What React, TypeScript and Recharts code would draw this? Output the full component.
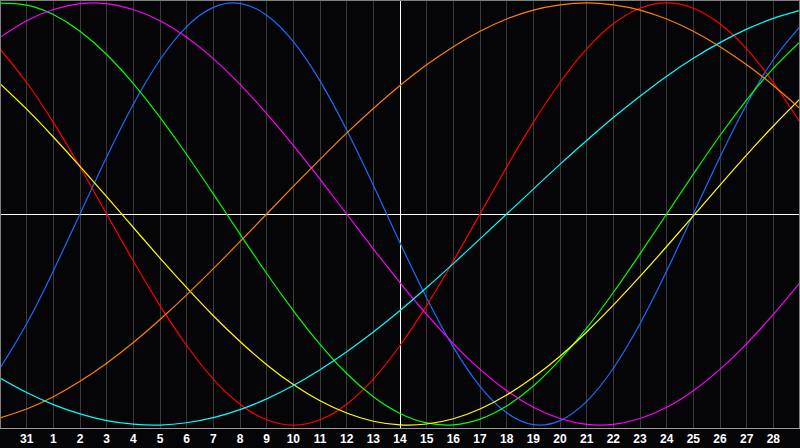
import React from "react";
import {
  CartesianGrid,
  Line,
  LineChart,
  ReferenceLine,
  XAxis,
  YAxis,
} from "recharts";

// one label per day column, Jan 30 .. Mar 1
const dayLabels = [
  "30", "31", "1", "2", "3", "4", "5", "6", "7", "8", "9", "10", "11", "12", "13",
  "14", "15", "16", "17", "18", "19", "20", "21", "22", "23", "24", "25", "26",
  "27", "28", "1",
];
const todayIndex = 15;

// values, -1 .. 1
const physical = [
  -0.731, -0.52, -0.27, 0, 0.27, 0.52, 0.731, 0.888, 0.979, 0.998, 0.942, 0.817,
  0.631, 0.398, 0.136, -0.136, -0.398, -0.631, -0.817, -0.942, -0.998, -0.979,
  -0.888, -0.731, -0.52, -0.27, 0, 0.27, 0.52, 0.731, 0.888,
];
const emotional = [
  0.782, 0.623, 0.434, 0.223, 0, -0.223, -0.434, -0.623, -0.782, -0.901, -0.975,
  -1.0, -0.975, -0.901, -0.782, -0.623, -0.434, -0.223, 0, 0.223, 0.434, 0.623,
  0.782, 0.901, 0.975, 1.0, 0.975, 0.901, 0.782, 0.623, 0.434,
];
const intellectual = [
  0.999, 0.99, 0.945, 0.866, 0.756, 0.618, 0.458, 0.282, 0.095, -0.095, -0.282,
  -0.458, -0.618, -0.756, -0.866, -0.945, -0.99, -0.999, -0.972, -0.91, -0.815,
  -0.69, -0.541, -0.372, -0.189, 0, 0.189, 0.372, 0.541, 0.69, 0.815,
];
const intuitive = [
  0.837, 0.916, 0.969, 0.997, 0.997, 0.969, 0.916, 0.837, 0.736, 0.614, 0.476,
  0.325, 0.165, 0, -0.165, -0.325, -0.476, -0.614, -0.736, -0.837, -0.916,
  -0.969, -0.997, -0.997, -0.969, -0.916, -0.837, -0.736, -0.614, -0.476, -0.325,
];
const aesthetic = [
  0.618, 0.497, 0.365, 0.226, 0.082, -0.064, -0.209, -0.349, -0.482, -0.604,
  -0.714, -0.808, -0.885, -0.943, -0.982, -0.999, -0.995, -0.97, -0.924, -0.858,
  -0.774, -0.674, -0.559, -0.432, -0.296, -0.154, -0.009, 0.137, 0.28, 0.417,
  0.545,
];
const awareness = [
  -0.966, -0.924, -0.866, -0.793, -0.707, -0.609, -0.5, -0.383, -0.259, -0.131,
  0, 0.131, 0.259, 0.383, 0.5, 0.609, 0.707, 0.793, 0.866, 0.924, 0.966, 0.991,
  1.0, 0.991, 0.966, 0.924, 0.866, 0.793, 0.707, 0.609, 0.5,
];
const spiritual = [
  -0.777, -0.846, -0.903, -0.947, -0.979, -0.996, -1.0, -0.989, -0.965, -0.927,
  -0.876, -0.813, -0.738, -0.653, -0.559, -0.457, -0.348, -0.235, -0.118, 0,
  0.118, 0.235, 0.348, 0.457, 0.558, 0.653, 0.738, 0.812, 0.876, 0.927, 0.965,
];

const series = [
  { key: "physical", color: "#1a6cff", values: physical },
  { key: "emotional", color: "#ff0000", values: emotional },
  { key: "intellectual", color: "#00ff00", values: intellectual },
  { key: "intuitive", color: "#ff00ff", values: intuitive },
  { key: "aesthetic", color: "#ffff00", values: aesthetic },
  { key: "awareness", color: "#ff8000", values: awareness },
  { key: "spiritual", color: "#00ffff", values: spiritual },
];

const data = dayLabels.map((label, i) => {
  const row: Record<string, number | string> = { idx: i, label };
  series.forEach((s) => {
    row[s.key] = s.values[i];
  });
  return row;
});

const ticks = dayLabels.map((_, i) => i).slice(1, -1);

function DayTick(props: any) {
  const { x, y, payload } = props;
  return (
    <text
      x={x}
      y={y + 15}
      textAnchor="middle"
      fill="#ffffff"
      fontSize={12}
      fontWeight="bold"
      fontFamily="'Liberation Sans', Arial, sans-serif"
    >
      {dayLabels[payload.value]}
    </text>
  );
}

export default function App() {
  return (
    <div
      style={{
        position: "absolute",
        left: 0,
        top: 0,
        width: 800,
        height: 448,
        background: "#050508",
      }}
    >
      <LineChart
        width={800}
        height={448}
        data={data}
        margin={{ top: 0, right: 0, left: 0, bottom: 0 }}
      >
        <CartesianGrid
          horizontal={false}
          stroke="#3a3a3a"
          shapeRendering="crispEdges"
        />
        <XAxis
          dataKey="idx"
          type="number"
          domain={[0, 30]}
          ticks={ticks}
          interval={0}
          height={20}
          tickLine={false}
          tickSize={0}
          tickMargin={0}
          axisLine={{ stroke: "#9a9a9a", shapeRendering: "crispEdges" }}
          tick={<DayTick />}
        />
        <YAxis hide domain={[-1.014, 1.014]} />
        <ReferenceLine y={0} stroke="#ffffff" shapeRendering="crispEdges" />
        <ReferenceLine x={todayIndex} stroke="#ffffff" shapeRendering="crispEdges" />
        {series.map((s) => (
          <Line
            key={s.key}
            dataKey={s.key}
            type="natural"
            stroke={s.color}
            strokeWidth={1.2}
            dot={false}
            activeDot={false}
            isAnimationActive={false}
          />
        ))}
      </LineChart>
      <div
        style={{
          position: "absolute",
          left: 0,
          top: 0,
          width: 800,
          height: 428,
          boxSizing: "border-box",
          border: "1px solid #7f7f7f",
          borderBottom: "none",
          pointerEvents: "none",
        }}
      />
    </div>
  );
}
